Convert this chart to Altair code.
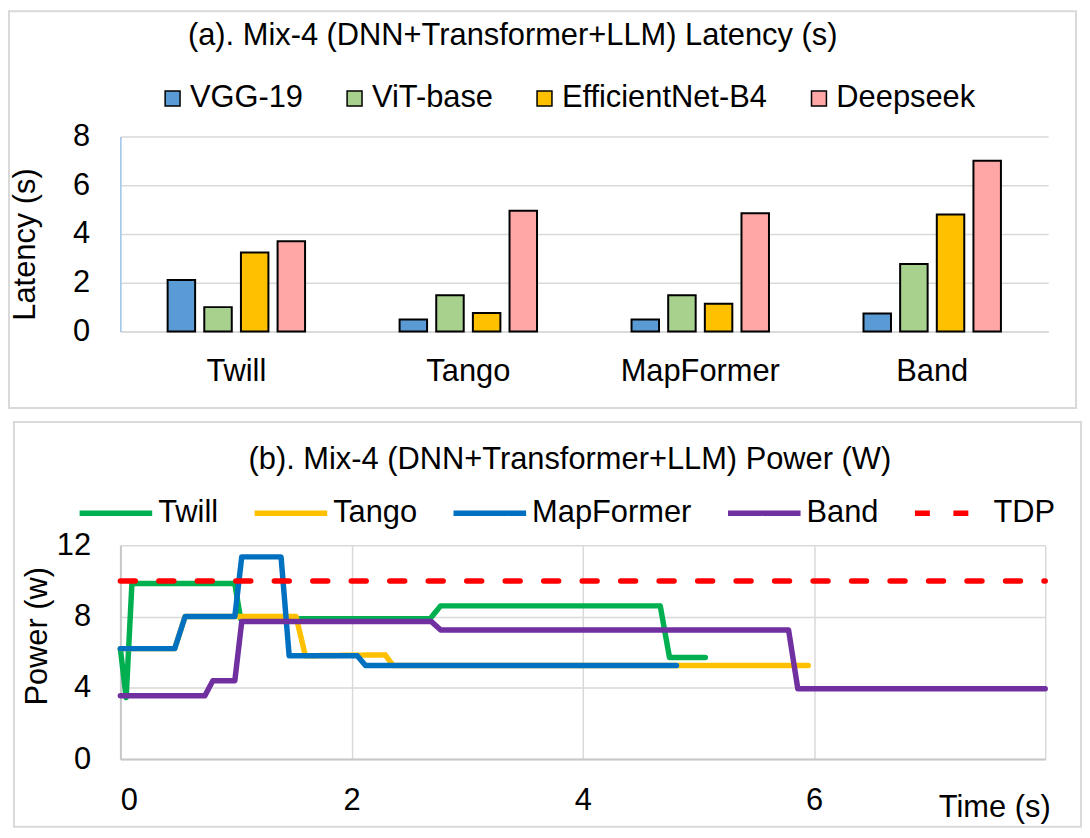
import altair as alt
import pandas as pd

FONT = "Liberation Sans"
FS = 31

# ---------------- (a) latency data ----------------
categories = ["Twill", "Tango", "MapFormer", "Band"]
models = ["VGG-19", "ViT-base", "EfficientNet-B4", "Deepseek"]
vgg19 = [2.11, 0.49, 0.49, 0.74]
vit_base = [1.00, 1.49, 1.49, 2.77]
efficientnet_b4 = [3.24, 0.76, 1.14, 4.80]
deepseek = [3.70, 4.96, 4.85, 7.01]
bar_colors = ["#5B9BD5", "#A9D18E", "#FFC000", "#FFA7A7"]

# ---------------- (b) power data ----------------
twill_t = [0.00, 0.05, 0.10, 0.99, 1.04, 2.68, 2.77, 4.67, 4.75, 5.06]
twill_p = [6.20, 3.45, 9.85, 9.85, 7.88, 7.88, 8.60, 8.60, 5.70, 5.70]
tango_t = [0.00, 0.47, 0.56, 1.52, 1.60, 2.29, 2.36, 5.95]
tango_p = [6.20, 6.20, 8.00, 8.00, 5.80, 5.85, 5.25, 5.25]
mapformer_t = [0.00, 0.47, 0.56, 0.99, 1.05, 1.39, 1.46, 2.05, 2.12, 4.81]
mapformer_p = [6.20, 6.20, 8.00, 8.00, 11.35, 11.35, 5.80, 5.80, 5.25, 5.25]
band_t = [0.00, 0.73, 0.80, 0.99, 1.05, 2.69, 2.77, 5.78, 5.86, 8.00]
band_p = [3.55, 3.55, 4.40, 4.40, 7.72, 7.72, 7.25, 7.25, 3.95, 3.95]
tdp_t = [0.00, 8.00]
tdp_p = [10.0, 10.0]
series_names = ["Twill", "Tango", "MapFormer", "Band", "TDP"]
line_colors = ["#00B050", "#FFC000", "#0070C0", "#7030A0", "#FF0000"]
line_dashes = [[1, 0], [1, 0], [1, 0], [1, 0], [15, 23.7]]

# ---------------- tables ----------------
lat_rows = []
for i, c in enumerate(categories):
    for m, vals in zip(models, [vgg19, vit_base, efficientnet_b4, deepseek]):
        lat_rows.append({"Scheme": c, "Model": m, "Latency": vals[i]})
lat_df = pd.DataFrame(lat_rows)

pow_rows = []
for name, ts, ps in zip(series_names,
                        [twill_t, tango_t, mapformer_t, band_t, tdp_t],
                        [twill_p, tango_p, mapformer_p, band_p, tdp_p]):
    for k, (t, p) in enumerate(zip(ts, ps)):
        pow_rows.append({"Series": name, "Time": t, "Power": p, "idx": k})
pow_df = pd.DataFrame(pow_rows)

one = pd.DataFrame({"k": [0]})

# ---------------- panel (a) ----------------
frame_a = alt.Chart(one).mark_rect(fillOpacity=0, stroke="#d9d9d9", strokeWidth=2).encode(
    x=alt.value(-112), x2=alt.value(961), y=alt.value(-126), y2=alt.value(273)
)

bars = alt.Chart(lat_df).mark_bar(stroke="black", strokeWidth=2).encode(
    x=alt.X("Scheme:N", sort=categories,
            scale=alt.Scale(paddingInner=0.368, paddingOuter=0.184),
            axis=alt.Axis(title=None, labelAngle=0, labelFontSize=FS, labelColor="black",
                          labelPadding=25, ticks=False, domainColor="#d9d9d9", domainWidth=1.5)),
    xOffset=alt.XOffset("Model:N", sort=models,
                        scale=alt.Scale(paddingInner=0.25, paddingOuter=0.125)),
    y=alt.Y("Latency:Q", scale=alt.Scale(domain=[0, 8]),
            axis=alt.Axis(values=[0, 2, 4, 6, 8], title="Latency (s)", titleFontSize=FS,
                          titleFontWeight="normal", titleColor="black", titleX=-95, titleY=108,
                          titleAngle=270, titleBaseline="middle", titleAlign="center",
                          labelFontSize=FS, labelColor="black", labelPadding=31, ticks=False,
                          domainColor="#9DC3E6", domainWidth=1.5,
                          gridColor="#d9d9d9", gridWidth=1.5)),
    color=alt.Color("Model:N", sort=models,
                    scale=alt.Scale(domain=models, range=bar_colors),
                    legend=alt.Legend(title=None, orient="none", direction="horizontal",
                                      legendX=37, legendY=-54, padding=0,
                                      symbolType="square", symbolSize=225,
                                      symbolStrokeColor="black", symbolStrokeWidth=1.5,
                                      labelFontSize=FS, labelColor="black", labelOffset=2,
                                      labelLimit=0, columnPadding=36)),
)

panel_a = alt.layer(frame_a, bars).properties(
    width=933, height=196,
    title=alt.TitleParams("(a). Mix-4 (DNN+Transformer+LLM) Latency (s)", fontSize=FS,
                          fontWeight="normal", color="black", anchor="middle", frame="group",
                          dx=-72, offset=-57, baseline="middle"),
)

# ---------------- panel (b) ----------------
frame_b = alt.Chart(one).mark_rect(fillOpacity=0, stroke="#d9d9d9", strokeWidth=2).encode(
    x=alt.value(-107), x2=alt.value(966), y=alt.value(-124), y2=alt.value(283)
)

leg_b = dict(title=None, orient="none", direction="horizontal",
             legendX=-44, legendY=-72, padding=0,
             symbolType="stroke", symbolSize=5329, symbolStrokeWidth=5.5,
             labelFontSize=FS, labelColor="black", labelOffset=3,
             labelLimit=0, columnPadding=25)

lines = alt.Chart(pow_df).mark_line(strokeWidth=5.5, strokeCap="round", strokeJoin="round").encode(
    x=alt.X("Time:Q", scale=alt.Scale(domain=[0, 8], nice=False),
            axis=alt.Axis(values=[0, 2, 4, 6, 8],
                          labelExpr="datum.value == 8 ? '' : datum.label",
                          title="Time (s)", titleFontSize=FS, titleFontWeight="normal",
                          titleColor="black", titleX=935, titleY=49, titleAlign="right",
                          titleBaseline="middle",
                          labelFontSize=FS, labelColor="black", labelPadding=27, ticks=False,
                          domainColor="#c8c8c8", domainWidth=2,
                          gridColor="#d9d9d9", gridWidth=1.5)),
    y=alt.Y("Power:Q", scale=alt.Scale(domain=[0, 12], nice=False),
            axis=alt.Axis(values=[0, 4, 8, 12], title="Power (w)", titleFontSize=FS,
                          titleFontWeight="normal", titleColor="black", titleX=-83, titleY=91,
                          titleAngle=270, titleBaseline="middle", titleAlign="center",
                          labelFontSize=FS, labelColor="black", labelPadding=30, ticks=False,
                          domainColor="#c8c8c8", domainWidth=2,
                          gridColor="#d9d9d9", gridWidth=1.5)),
    color=alt.Color("Series:N", sort=series_names,
                    scale=alt.Scale(domain=series_names, range=line_colors),
                    legend=alt.Legend(**leg_b)),
    strokeDash=alt.StrokeDash("Series:N", sort=series_names,
                              scale=alt.Scale(domain=series_names, range=line_dashes),
                              legend=alt.Legend(**leg_b)),
    order="idx:Q",
)

panel_b = alt.layer(frame_b, lines).properties(
    width=930, height=215,
    title=alt.TitleParams("(b). Mix-4 (DNN+Transformer+LLM) Power (W)", fontSize=FS,
                          fontWeight="normal", color="black", anchor="middle", frame="group",
                          dx=-13, offset=-70, baseline="middle"),
)

chart = alt.vconcat(panel_a, panel_b, spacing=12).resolve_scale(
    color="independent", strokeDash="independent"
).resolve_legend(color="independent", strokeDash="independent").properties(
    padding={"left": 0, "top": 0, "right": 0, "bottom": 0}
).configure(font=FONT).configure_view(stroke=None)

chart.save("out.html", embed_options={"renderer": "svg", "actions": False})
